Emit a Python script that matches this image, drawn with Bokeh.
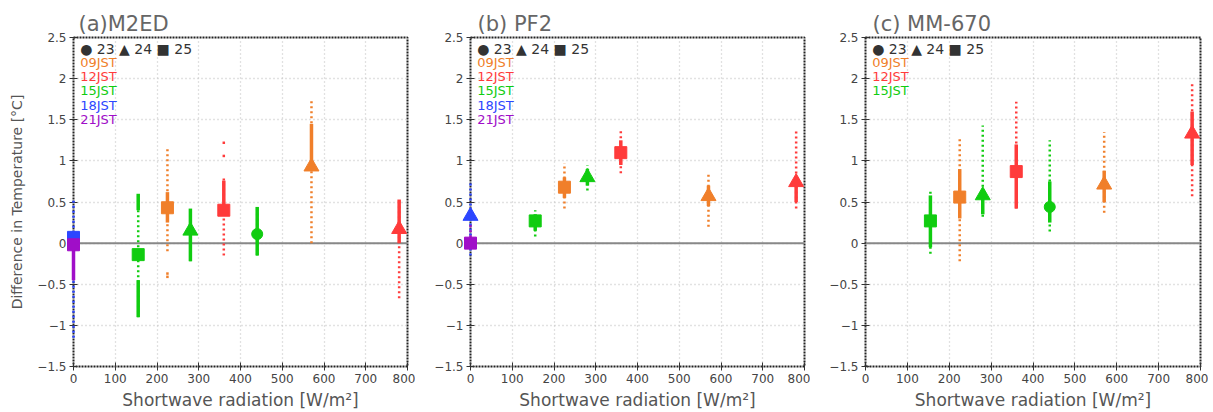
from bokeh.plotting import figure
from bokeh.layouts import row
from bokeh.models import Span, Label, FixedTicker, ColumnDataSource
from bokeh.embed import file_html
from bokeh.resources import INLINE

# ---------------- data ----------------
hour_colors = {"09": "#f07f2a", "12": "#ff3b3b", "15": "#10cc10", "18": "#2c46ff", "21": "#a00ec8"}
day_markers = {23: "circle", 24: "triangle", 25: "square"}
day_sizes = {23: 11, 24: 15, 25: 12}

x_ticks = [0, 100, 200, 300, 400, 500, 600, 700, 800]
y_ticks = [-1.5, -1.0, -0.5, 0.0, 0.5, 1.0, 1.5, 2.0, 2.5]
y_tick_labels = ["\u22121.5", "\u22121", "\u22120.5", "0", "0.5", "1", "1.5", "2", "2.5"]

# (a) M2ED
a_x = [0, 0, 155, 225, 280, 360, 440, 570, 780]
a_day = [25, 25, 25, 25, 24, 25, 23, 24, 24]
a_hour = ["18", "21", "15", "09", "15", "12", "15", "09", "12"]
a_mean = [0.07, -0.02, -0.14, 0.43, 0.15, 0.40, 0.11, 0.93, 0.17]
a_min = [-1.15, -0.45, -0.90, -0.10, -0.22, -0.15, -0.15, 0.00, -0.67]
a_max = [0.55, 0.10, 0.60, 1.15, 0.42, 0.81, 0.44, 1.73, 0.53]
a_core_x = [0, 155, 155, 225, 280, 360, 440, 570, 780]
a_core_hour = ["21", "15", "15", "09", "15", "12", "15", "09", "12"]
a_core_lo = [-0.45, -0.90, 0.40, 0.25, -0.22, 0.34, -0.15, 1.00, 0.00]
a_core_hi = [0.05, -0.45, 0.60, 0.62, 0.42, 0.76, 0.44, 1.45, 0.53]
a_out_x = [225, 225, 360, 360]
a_out_hour = ["09", "09", "12", "12"]
a_out_y = [-0.37, -0.41, 1.06, 1.22]
a_legend = ["09", "12", "15", "18", "21"]

# (b) PF2
b_x = [0, 0, 155, 225, 280, 360, 570, 780]
b_day = [24, 25, 25, 25, 24, 25, 24, 24]
b_hour = ["18", "21", "15", "09", "15", "12", "09", "12"]
b_mean = [0.33, 0.00, 0.27, 0.68, 0.80, 1.10, 0.57, 0.74]
b_min = [-0.15, -0.05, 0.08, 0.42, 0.64, 0.85, 0.20, 0.42]
b_max = [0.75, 0.25, 0.40, 0.97, 0.95, 1.38, 0.86, 1.36]
b_core_x = [155, 225, 280, 360, 570, 780]
b_core_hour = ["15", "09", "15", "12", "09", "12"]
b_core_lo = [0.15, 0.55, 0.70, 0.95, 0.45, 0.50]
b_core_hi = [0.35, 0.80, 0.90, 1.25, 0.70, 0.80]
b_out_x = []
b_out_hour = []
b_out_y = []
b_legend = ["09", "12", "15", "18", "21"]

# (c) MM-670
c_x = [155, 225, 280, 360, 440, 570, 780]
c_day = [25, 25, 24, 25, 23, 24, 24]
c_hour = ["15", "09", "15", "12", "15", "09", "12"]
c_mean = [0.27, 0.56, 0.58, 0.87, 0.44, 0.71, 1.33]
c_min = [-0.13, -0.22, 0.32, 0.42, 0.14, 0.37, 0.57]
c_max = [0.65, 1.28, 1.43, 1.72, 1.25, 1.35, 1.95]
c_core_x = [155, 225, 280, 360, 440, 570, 780]
c_core_hour = ["15", "09", "15", "12", "15", "09", "12"]
c_core_lo = [-0.05, 0.30, 0.35, 0.42, 0.25, 0.50, 0.95]
c_core_hi = [0.58, 0.90, 0.65, 1.20, 0.75, 0.88, 1.60]
c_out_x = []
c_out_hour = []
c_out_y = []
c_legend = ["09", "12", "15"]

legend_y = [2.195, 2.02, 1.853, 1.677, 1.50]
FONT = "DejaVu Sans"


def make_panel(title, xs, days, hours, means, mins, maxs,
               cx, chours, clo, chi, ox, ohours, oy, legend_hours,
               width, bl, br, title_offset, ylabel):
    p = figure(width=width, height=412, x_range=(0, 800), y_range=(-1.5, 2.5),
               output_backend="svg", toolbar_location=None,
               min_border_left=bl, min_border_right=br,
               min_border_top=37, min_border_bottom=43)
    p.background_fill_color = "white"
    p.border_fill_color = "white"
    p.outline_line_color = "#222222"
    p.outline_line_width = 2
    p.outline_line_dash = "2 1"

    p.title.text = title
    p.title.text_font = FONT
    p.title.text_font_size = "21px"
    p.title.text_font_style = "normal"
    p.title.text_color = "#666666"
    p.title.offset = title_offset
    p.title.standoff = 3

    p.xaxis.ticker = FixedTicker(ticks=x_ticks)
    p.yaxis.ticker = FixedTicker(ticks=y_ticks)
    p.yaxis.major_label_overrides = {v: s for v, s in zip(y_ticks, y_tick_labels)}
    p.xaxis.major_label_overrides = {v: str(v) for v in x_ticks}
    for ax in (p.xaxis, p.yaxis):
        ax.axis_line_color = None
        ax.major_tick_in = 4
        ax.major_tick_out = 4
        ax.major_tick_line_color = "#333333"
        ax.minor_tick_line_color = None
        ax.major_label_text_font = FONT
        ax.major_label_text_font_size = "12px"
        ax.major_label_text_color = "#444444"
        ax.major_label_standoff = 3
    p.xaxis.axis_label = "Shortwave radiation [W/m\u00b2]"
    p.xaxis.axis_label_text_font = FONT
    p.xaxis.axis_label_text_font_size = "17px"
    p.xaxis.axis_label_text_font_style = "normal"
    p.xaxis.axis_label_text_color = "#555555"
    p.xaxis.axis_label_standoff = 4
    if ylabel:
        p.yaxis.axis_label = "Difference in Temperature [\u00b0C]"
        p.yaxis.axis_label_text_font = FONT
        p.yaxis.axis_label_text_font_size = "14px"
        p.yaxis.axis_label_text_font_style = "normal"
        p.yaxis.axis_label_text_color = "#555555"
        p.yaxis.axis_label_standoff = 9

    for g in (p.xgrid, p.ygrid):
        g.grid_line_color = "#c4c4c4"
        g.grid_line_dash = "1 3"
        g.grid_line_width = 1.3

    p.add_layout(Span(location=0, dimension="width", line_color="#888888", line_width=2))

    src = ColumnDataSource(dict(
        x=xs, mean=means, lo=mins, hi=maxs,
        color=[hour_colors[h] for h in hours],
        marker=[day_markers[d] for d in days],
        size=[day_sizes[d] for d in days]))
    core = ColumnDataSource(dict(x=cx, lo=clo, hi=chi, color=[hour_colors[h] for h in chours]))
    out = ColumnDataSource(dict(x=ox, y=oy, color=[hour_colors[h] for h in ohours]))

    p.segment(x0="x", y0="lo", x1="x", y1="hi", source=src, line_color="color",
              line_width=2.5, line_dash="2 3", level="overlay")
    p.segment(x0="x", y0="lo", x1="x", y1="hi", source=core, line_color="color",
              line_width=3.5, level="overlay")
    p.scatter(x="x", y="y", source=out, marker="square", size=2.5,
              fill_color="color", line_color=None, level="overlay")
    p.scatter(x="x", y="mean", source=src, marker="marker", size="size",
              fill_color="color", line_color="color", level="overlay")

    p.add_layout(Label(x=16, y=2.364, text="\u25cf 23 \u25b2 24 \u25a0 25",
                       text_font=FONT, text_font_size="14px", text_color="#333333",
                       text_baseline="middle"))
    for h, yy in zip(legend_hours, legend_y):
        p.add_layout(Label(x=16, y=yy, text=h + "JST", text_font=FONT,
                           text_font_size="13px", text_color=hour_colors[h],
                           text_baseline="middle"))
    return p


pa = make_panel("(a)M2ED", a_x, a_day, a_hour, a_mean, a_min, a_max,
                a_core_x, a_core_hour, a_core_lo, a_core_hi,
                a_out_x, a_out_hour, a_out_y, a_legend, 415, 73, 8, 5, True)
pb = make_panel("(b) PF2", b_x, b_day, b_hour, b_mean, b_min, b_max,
                b_core_x, b_core_hour, b_core_lo, b_core_hi,
                b_out_x, b_out_hour, b_out_y, b_legend, 395, 55, 6, 7, False)
pc = make_panel("(c) MM-670", c_x, c_day, c_hour, c_mean, c_min, c_max,
                c_core_x, c_core_hour, c_core_lo, c_core_hi,
                c_out_x, c_out_hour, c_out_y, c_legend, 398, 55, 8, 7, False)

layout = row(pa, pb, pc)
open("out.html", "w").write(file_html(layout, INLINE))
